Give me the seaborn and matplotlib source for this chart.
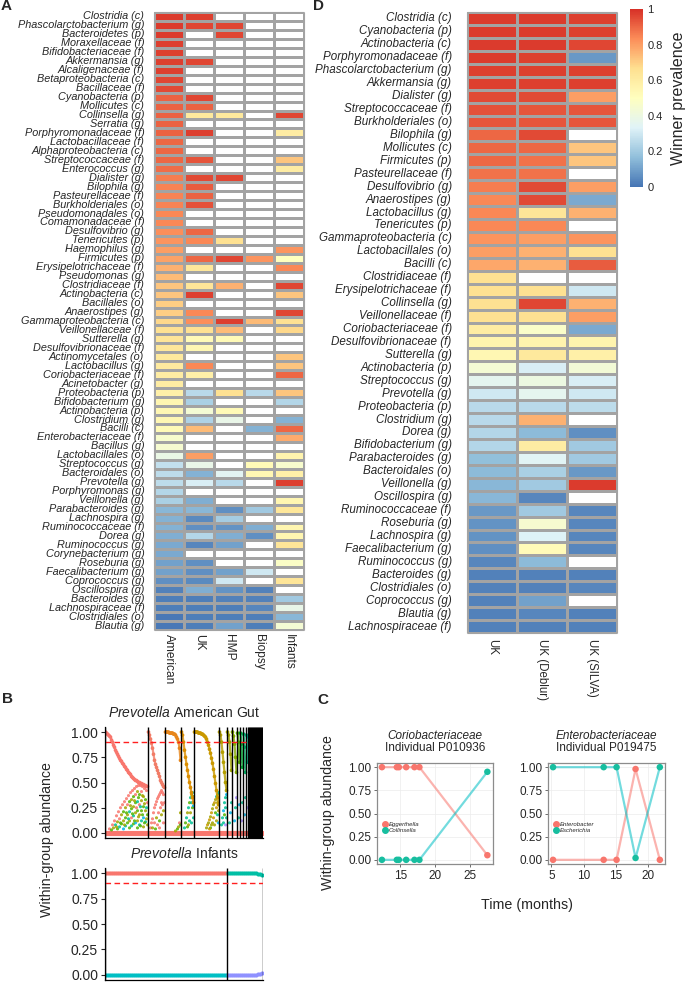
import numpy as np
import pandas as pd
import seaborn as sns
import matplotlib.pyplot as plt
from matplotlib.colors import LinearSegmentedColormap
from matplotlib.lines import Line2D

sns.set_theme(style="white")
plt.rcParams["font.family"] = ["Liberation Sans", "DejaVu Sans"]
plt.rcParams["mathtext.fontset"] = "custom"
plt.rcParams["mathtext.it"] = "Liberation Sans:italic"
plt.rcParams["mathtext.rm"] = "Liberation Sans"

nan = np.nan

# ---------------- panel A: winner prevalence per cohort ----------------
a_taxa = [
    "Clostridia (c)", "Phascolarctobacterium (g)", "Bacteroidetes (p)", "Moraxellaceae (f)",
    "Bifidobacteriaceae (f)", "Akkermansia (g)", "Alcaligenaceae (f)", "Betaproteobacteria (c)",
    "Bacillaceae (f)", "Cyanobacteria (p)", "Mollicutes (c)", "Collinsella (g)", "Serratia (g)",
    "Porphyromonadaceae (f)", "Lactobacillaceae (f)", "Alphaproteobacteria (c)",
    "Streptococcaceae (f)", "Enterococcus (g)", "Dialister (g)", "Bilophila (g)",
    "Pasteurellaceae (f)", "Burkholderiales (o)", "Pseudomonadales (o)", "Comamonadaceae (f)",
    "Desulfovibrio (g)", "Tenericutes (p)", "Haemophilus (g)", "Firmicutes (p)",
    "Erysipelotrichaceae (f)", "Pseudomonas (g)", "Clostridiaceae (f)", "Actinobacteria (c)",
    "Bacillales (o)", "Anaerostipes (g)", "Gammaproteobacteria (c)", "Veillonellaceae (f)",
    "Sutterella (g)", "Desulfovibrionaceae (f)", "Actinomycetales (o)", "Lactobacillus (g)",
    "Coriobacteriaceae (f)", "Acinetobacter (g)", "Proteobacteria (p)", "Bifidobacterium (g)",
    "Actinobacteria (p)", "Clostridium (g)", "Bacilli (c)", "Enterobacteriaceae (f)",
    "Bacillus (g)", "Lactobacillales (o)", "Streptococcus (g)", "Bacteroidales (o)",
    "Prevotella (g)", "Porphyromonas (g)", "Veillonella (g)", "Parabacteroides (g)",
    "Lachnospira (g)", "Ruminococcaceae (f)", "Dorea (g)", "Ruminococcus (g)",
    "Corynebacterium (g)", "Roseburia (g)", "Faecalibacterium (g)", "Coprococcus (g)",
    "Oscillospira (g)", "Bacteroides (g)", "Lachnospiraceae (f)", "Clostridiales (o)",
    "Blautia (g)",
]
a_cohorts = ["American", "UK", "HMP", "Biopsy", "Infants"]
a_american = [
    0.98, 0.98, 0.98, 0.97, 0.97, 0.97, 0.97, 0.96, 0.95, 0.91, 0.91, 0.91, 0.91, 0.91,
    0.90, 0.90, 0.90, 0.89, 0.86, 0.85, 0.85, 0.85, 0.84, 0.84, 0.83, 0.82, 0.80, 0.79,
    0.76, 0.74, 0.72, 0.72, 0.70, 0.70, 0.68, 0.66, 0.64, 0.63, 0.62, 0.61, 0.60, 0.60,
    0.58, 0.55, 0.54, 0.54, 0.53, 0.46, 0.45, 0.39, 0.27, 0.26, 0.26, 0.24, 0.22, 0.15,
    0.14, 0.14, 0.13, 0.12, 0.12, 0.10, 0.10, 0.06, 0.03, 0.02, 0.02, 0.01, 0.01,
]
a_uk = [
    0.97, 0.96, nan, nan, nan, 0.96, nan, nan, nan, 0.96, 0.91, 0.62, nan, 0.97,
    nan, nan, 0.93, nan, 0.95, 0.92, 0.91, 0.94, nan, nan, 0.90, 0.84, nan, 0.90,
    0.63, nan, 0.64, 0.97, nan, 0.84, 0.83, 0.66, 0.53, 0.54, nan, 0.84, 0.58, nan,
    0.25, 0.22, 0.44, 0.23, 0.74, nan, nan, 0.80, 0.38, 0.14, 0.32, nan, 0.13, 0.15,
    0.05, 0.06, 0.24, 0.04, nan, 0.06, 0.06, 0.05, 0.13, 0.02, 0.02, 0.02, 0.02,
]
a_hmp = [
    nan, 0.96, 0.96, nan, nan, nan, nan, nan, nan, nan, nan, 0.62, nan, nan,
    nan, nan, nan, nan, 0.96, nan, nan, nan, nan, nan, nan, 0.66, nan, 0.96,
    nan, nan, 0.76, nan, nan, nan, 0.97, 0.74, 0.53, nan, nan, nan, nan, nan,
    0.66, nan, 0.53, 0.38, nan, nan, nan, nan, nan, 0.35, 0.25, nan, nan, 0.06,
    0.21, 0.07, 0.13, 0.10, nan, nan, 0.10, 0.30, 0.07, 0.03, 0.02, 0.02, 0.10,
]
a_biopsy = [
    nan, nan, nan, nan, nan, nan, nan, nan, nan, nan, nan, nan, nan, nan,
    nan, nan, nan, nan, nan, nan, nan, nan, nan, nan, nan, nan, nan, 0.82,
    nan, nan, nan, nan, nan, nan, 0.74, nan, nan, nan, nan, nan, nan, nan,
    0.25, nan, nan, nan, 0.14, nan, nan, nan, 0.53, 0.54, nan, nan, nan, 0.20,
    nan, 0.13, 0.06, nan, nan, nan, 0.30, nan, 0.03, 0.03, 0.04, 0.02, 0.02,
]
a_infants = [
    nan, nan, nan, nan, nan, nan, nan, nan, nan, nan, nan, 0.96, nan, 0.60,
    nan, nan, 0.72, 0.60, nan, nan, nan, nan, nan, nan, nan, nan, 0.82, 0.50,
    0.84, nan, 0.96, 0.72, nan, 0.96, 0.66, 0.68, nan, nan, 0.72, 0.72, 0.90, nan,
    0.72, 0.24, nan, 0.14, 0.90, 0.77, nan, 0.56, 0.46, 0.58, 0.97, nan, 0.55, 0.63,
    nan, 0.55, 0.55, 0.64, nan, 0.48, nan, 0.64, nan, 0.20, 0.38, 0.15, 0.44,
]

# ---------------- panel D: winner prevalence, UK pipelines ----------------
d_taxa = [
    "Clostridia (c)", "Cyanobacteria (p)", "Actinobacteria (c)", "Porphyromonadaceae (f)",
    "Phascolarctobacterium (g)", "Akkermansia (g)", "Dialister (g)", "Streptococcaceae (f)",
    "Burkholderiales (o)", "Bilophila (g)", "Mollicutes (c)", "Firmicutes (p)",
    "Pasteurellaceae (f)", "Desulfovibrio (g)", "Anaerostipes (g)", "Lactobacillus (g)",
    "Tenericutes (p)", "Gammaproteobacteria (c)", "Lactobacillales (o)", "Bacilli (c)",
    "Clostridiaceae (f)", "Erysipelotrichaceae (f)", "Collinsella (g)", "Veillonellaceae (f)",
    "Coriobacteriaceae (f)", "Desulfovibrionaceae (f)", "Sutterella (g)", "Actinobacteria (p)",
    "Streptococcus (g)", "Prevotella (g)", "Proteobacteria (p)", "Clostridium (g)",
    "Dorea (g)", "Bifidobacterium (g)", "Parabacteroides (g)", "Bacteroidales (o)",
    "Veillonella (g)", "Oscillospira (g)", "Ruminococcaceae (f)", "Roseburia (g)",
    "Lachnospira (g)", "Faecalibacterium (g)", "Ruminococcus (g)", "Bacteroides (g)",
    "Clostridiales (o)", "Coprococcus (g)", "Blautia (g)", "Lachnospiraceae (f)",
]
d_pipelines = ["UK", "UK (Deblur)", "UK (SILVA)"]
d_uk = [
    0.98, 0.98, 0.98, 0.98, 0.97, 0.97, 0.95, 0.94, 0.93, 0.90, 0.90, 0.90,
    0.88, 0.86, 0.84, 0.84, 0.84, 0.82, 0.80, 0.78, 0.66, 0.66, 0.66, 0.66,
    0.60, 0.56, 0.54, 0.44, 0.36, 0.30, 0.25, 0.25, 0.24, 0.24, 0.17, 0.16,
    0.15, 0.15, 0.08, 0.07, 0.07, 0.06, 0.04, 0.03, 0.03, 0.03, 0.03, 0.03,
]
d_deblur = [
    0.98, 0.98, 0.98, 0.97, 0.97, 0.97, 0.95, 0.93, 0.93, 0.95, 0.90, 0.88,
    0.88, 0.95, 0.95, 0.64, 0.84, 0.80, 0.76, 0.76, nan, 0.66, 0.96, 0.66,
    0.47, 0.56, 0.62, 0.32, 0.40, 0.36, 0.25, 0.76, 0.16, 0.60, 0.34, 0.22,
    0.20, 0.04, 0.20, 0.45, 0.33, 0.52, 0.16, 0.03, 0.03, 0.10, 0.04, 0.03,
]
d_silva = [
    0.97, 0.97, 0.96, 0.08, 0.97, 0.97, 0.80, 0.93, 0.93, nan, 0.72, 0.72,
    nan, 0.80, 0.12, 0.76, nan, 0.82, 0.66, 0.92, nan, 0.30, 0.76, 0.80,
    0.12, 0.56, 0.58, 0.43, 0.32, 0.30, 0.26, nan, 0.06, 0.20, 0.20, 0.08,
    0.98, nan, 0.04, 0.04, 0.04, 0.04, nan, 0.03, 0.04, nan, 0.03, 0.03,
]

# ---------------- panel B: Prevotella within-group abundance ----------------
# dominant ASV abundance per sample, one list per winner group (left to right)
b_g1 = [1.0, 0.99, 0.98, 0.97, 0.96, 0.95, 0.92, 0.9, 0.87, 0.85, 0.82, 0.8, 0.78, 0.76,
        0.74, 0.72, 0.71, 0.69, 0.68, 0.66, 0.65, 0.63, 0.62, 0.6, 0.59, 0.58, 0.56, 0.55,
        0.54, 0.53, 0.52, 0.52, 0.51, 0.5, 0.5, 0.49, 0.49, 0.48, 0.48, 0.47, 0.47, 0.46, 0.46]
b_g2 = [1.0, 0.97, 0.93, 0.89, 0.84, 0.78, 0.72, 0.68, 0.65, 0.62, 0.59, 0.56, 0.52, 0.5,
        0.48, 0.46, 0.45]
b_g3 = [1.0, 1.0, 1.0, 1.0, 0.99, 0.99, 0.99, 0.99, 0.98, 0.98, 0.97, 0.95, 0.93, 0.9,
        0.84, 0.72]
b_g4 = [1.0, 0.97, 0.9, 0.82, 0.75, 0.68, 0.62, 0.56, 0.5, 0.45, 0.4, 0.35, 0.3]
b_g5 = [1.0, 1.0, 1.0, 1.0, 0.99, 0.99, 0.99, 0.98, 0.98, 0.97, 0.96, 0.95, 0.93, 0.9,
        0.87, 0.83, 0.79, 0.74, 0.69, 0.63, 0.56, 0.49, 0.42, 0.35, 0.28]
b_g6 = [1.0, 0.97, 0.9, 0.8, 0.7, 0.6, 0.5, 0.42]
b_g7 = [1.0, 0.97, 0.9, 0.78, 0.62]
b_g8 = [1.0, 0.96, 0.88, 0.75, 0.6]
b_g9 = [0.99, 0.9, 0.7]
b_g10 = [0.99, 0.88, 0.65]
b_g11 = [0.98, 0.85, 0.6]
b_g12 = [0.97, 0.7]
b_tail = [0.95, 0.9, 0.97, 0.85, 0.92, 0.8, 0.96, 0.88, 0.75, 0.93, 0.82, 0.9, 0.7, 0.86, 0.78]

# other ASVs: (sample index, abundance, ASV)
b_cloud = [
    (4, 0.04, "s"), (7, 0.08, "s"), (9, 0.12, "s"), (11, 0.17, "s"), (13, 0.21, "s"),
    (15, 0.25, "s"), (17, 0.28, "s"), (19, 0.31, "s"), (21, 0.34, "s"), (23, 0.37, "s"),
    (25, 0.4, "s"), (27, 0.42, "s"), (29, 0.44, "s"), (31, 0.46, "s"), (33, 0.47, "s"),
    (35, 0.47, "s"), (37, 0.46, "s"), (39, 0.44, "s"), (41, 0.42, "s"),
    (6, 0.03, "g"), (8, 0.05, "o"), (10, 0.08, "t"), (12, 0.11, "o"), (12, 0.04, "g"),
    (14, 0.14, "s"), (14, 0.06, "t"), (16, 0.18, "o"), (16, 0.09, "g"), (18, 0.21, "g"),
    (18, 0.12, "o"), (18, 0.04, "b"), (20, 0.25, "o"), (20, 0.15, "g"), (20, 0.07, "t"),
    (22, 0.28, "s"), (22, 0.18, "o"), (22, 0.1, "g"), (24, 0.31, "g"), (24, 0.21, "t"),
    (24, 0.12, "o"), (24, 0.05, "g"), (26, 0.33, "o"), (26, 0.24, "g"), (26, 0.15, "s"),
    (26, 0.07, "t"), (28, 0.36, "g"), (28, 0.26, "o"), (28, 0.17, "t"), (28, 0.09, "g"),
    (30, 0.38, "s"), (30, 0.3, "g"), (30, 0.2, "o"), (30, 0.1, "b"), (32, 0.41, "o"),
    (32, 0.31, "t"), (32, 0.22, "g"), (32, 0.12, "o"), (32, 0.05, "g"), (34, 0.38, "g"),
    (34, 0.28, "s"), (34, 0.18, "o"), (34, 0.08, "t"), (36, 0.41, "s"), (36, 0.32, "o"),
    (36, 0.22, "g"), (36, 0.12, "t"), (38, 0.36, "o"), (38, 0.26, "g"), (38, 0.15, "b"),
    (38, 0.06, "o"), (40, 0.33, "g"), (40, 0.22, "o"), (40, 0.11, "t"), (42, 0.3, "s"),
    (42, 0.18, "g"), (42, 0.08, "o"),
    (11, 0.06, "o"), (15, 0.1, "g"), (19, 0.08, "o"), (21, 0.2, "g"), (23, 0.14, "t"),
    (25, 0.27, "o"), (27, 0.19, "g"), (29, 0.32, "o"), (29, 0.12, "g"), (31, 0.25, "s"),
    (33, 0.35, "g"), (33, 0.16, "o"), (35, 0.26, "t"), (35, 0.07, "g"), (37, 0.37, "o"),
    (37, 0.18, "g"), (39, 0.29, "o"), (39, 0.1, "g"), (41, 0.25, "t"), (41, 0.14, "o"),
    (45, 0.05, "s"), (46, 0.1, "s"), (47, 0.14, "s"), (48, 0.2, "s"), (49, 0.25, "s"),
    (50, 0.28, "s"), (51, 0.31, "s"), (52, 0.34, "s"), (53, 0.36, "s"), (54, 0.38, "s"),
    (55, 0.4, "s"), (56, 0.42, "s"), (57, 0.4, "s"), (58, 0.38, "s"), (47, 0.05, "o"),
    (49, 0.1, "s"), (51, 0.15, "o"), (52, 0.08, "s"), (53, 0.2, "s"), (54, 0.12, "g"),
    (55, 0.25, "s"), (56, 0.18, "o"), (57, 0.28, "s"), (58, 0.1, "s"), (58, 0.22, "o"),
    (50, 0.04, "g"), (54, 0.05, "s"), (56, 0.3, "s"), (59, 0.3, "s"),
    (70, 0.02, "o"), (72, 0.04, "g"), (73, 0.06, "o"), (74, 0.1, "s"), (75, 0.2, "o"),
    (75, 0.08, "g"),
    (79, 0.05, "t"), (80, 0.1, "g"), (81, 0.15, "t"), (82, 0.2, "o"), (83, 0.25, "t"),
    (84, 0.3, "g"), (85, 0.35, "t"), (86, 0.38, "o"), (87, 0.4, "t"), (88, 0.36, "g"),
    (82, 0.06, "g"), (84, 0.12, "t"), (85, 0.2, "o"), (86, 0.1, "t"), (87, 0.25, "g"),
    (88, 0.15, "t"), (86, 0.3, "t"), (83, 0.08, "o"), (88, 0.27, "b"),
    (101, 0.05, "o"), (102, 0.08, "y"), (103, 0.1, "o"), (104, 0.13, "y"), (105, 0.16, "o"),
    (106, 0.2, "y"), (107, 0.24, "o"), (108, 0.28, "o"), (109, 0.3, "y"), (110, 0.33, "o"),
    (111, 0.36, "t"), (112, 0.38, "o"), (113, 0.4, "t"), (105, 0.05, "g"), (107, 0.1, "o"),
    (108, 0.15, "y"), (109, 0.08, "o"), (110, 0.2, "g"), (111, 0.12, "o"), (111, 0.25, "y"),
    (112, 0.18, "t"), (112, 0.3, "o"), (113, 0.1, "b"), (113, 0.22, "o"), (106, 0.08, "o"),
    (104, 0.04, "y"),
    (116, 0.08, "t"), (117, 0.15, "t"), (118, 0.22, "b"), (119, 0.3, "t"), (120, 0.35, "t"),
    (121, 0.38, "b"), (118, 0.1, "t"), (119, 0.18, "g"), (120, 0.25, "t"), (121, 0.15, "t"),
    (120, 0.08, "p"),
    (124, 0.1, "t"), (125, 0.2, "b"), (126, 0.3, "t"), (129, 0.12, "b"), (130, 0.25, "t"),
    (131, 0.35, "p"), (133, 0.15, "t"), (134, 0.28, "b"), (136, 0.12, "p"), (137, 0.3, "t"),
    (139, 0.18, "b"), (140, 0.35, "t"), (142, 0.25, "p"),
]

# infants: two winner groups
inf_g1_dom = [1.0] * 61
inf_g1_other = [0.0] * 61
inf_g2_dom = [1.0, 1.0, 1.0, 1.0, 1.0, 1.0, 1.0, 1.0, 1.0, 1.0, 1.0, 1.0, 1.0, 1.0, 1.0,
              0.995, 0.99, 0.985]
inf_g2_other = [0.0, 0.0, 0.0, 0.0, 0.0, 0.0, 0.0, 0.0, 0.0, 0.0, 0.0, 0.0, 0.0, 0.0, 0.0,
                0.005, 0.01, 0.015]
winner_cutoff = 0.9

# ---------------- panel C: time series in two infants ----------------
c1_time = [12.38, 14.52, 14.81, 15.86, 17.05, 17.76, 27.52]
c1_eggerthella = [1.0, 1.0, 1.0, 1.0, 1.0, 1.0, 0.05]
c1_collinsella = [0.0, 0.0, 0.0, 0.0, 0.0, 0.0, 0.95]
c2_time = [5.26, 13.1, 15.1, 18.04, 21.8]
c2_enterobacter = [0.0, 0.0, 0.0, 0.98, 0.0]
c2_escherichia = [1.0, 1.0, 1.0, 0.02, 1.0]

# ---------------- styling ----------------
W, H = 685, 982
CMAP = LinearSegmentedColormap.from_list(
    "winner", ["#4575b4", "#91bfdb", "#e0f3f8", "#ffffbf", "#fee090", "#fc8d59", "#d73027"])
GRID = "#a3a3a3"
DOM_COLORS = ["#F8766D", "#F17C67", "#E7861B", "#DC8E00", "#C99800", "#B49F00", "#A3A500",
              "#85AD00", "#5BB300", "#00BA38", "#00BE6C", "#00C094"]
TAIL_COLORS = ["#00BFC4", "#00B6EB", "#06A4FF", "#A58AFF", "#DF70F8", "#FB61D7", "#FF66A8"]
CLOUD_COLORS = {"s": "#F8766D", "o": "#A3A500", "g": "#53B400", "t": "#00C094",
                "b": "#00B6EB", "p": "#A58AFF", "y": "#C99800"}
PINK, TEAL, TEAL_LINE = "#F8766D", "#17BE9F", "#00BFC4"


def fig_box(x0, y0, x1, y1):
    return [x0 / W, 1 - y1 / H, (x1 - x0) / W, (y1 - y0) / H]


def draw_heatmap(ax, df, ysize, ypad, xsize, xpad, cbar_ax=None):
    sns.heatmap(df, ax=ax, cmap=CMAP, vmin=0, vmax=1, cbar=cbar_ax is not None,
                cbar_ax=cbar_ax, linewidths=0.8, linecolor=GRID,
                cbar_kws={"ticks": [0, 0.2, 0.4, 0.6, 0.8, 1]} if cbar_ax is not None else None)
    nr, nc = df.shape
    # outline the empty (missing) cells too
    ax.hlines(np.arange(nr + 1), 0, nc, colors=GRID, linewidth=0.8, clip_on=False)
    ax.vlines(np.arange(nc + 1), 0, nr, colors=GRID, linewidth=0.8, clip_on=False)
    ax.set_xlim(0, nc)
    ax.set_ylim(nr, 0)
    ax.set_yticks(np.arange(nr) + 0.5)
    ax.set_yticklabels(df.index, rotation=0, fontstyle="italic", fontsize=ysize)
    ax.set_xticks(np.arange(nc) + 0.5)
    ax.set_xticklabels(df.columns, rotation=-90, fontsize=xsize, va="top", ha="center")
    ax.tick_params(axis="both", length=0)
    ax.tick_params(axis="y", pad=ypad)
    ax.tick_params(axis="x", pad=xpad)
    ax.set_xlabel("")
    ax.set_ylabel("")


def main():
    fig = plt.figure(figsize=(W / 100, H / 100), dpi=100)

    # A
    a_df = pd.DataFrame(dict(zip(a_cohorts, [a_american, a_uk, a_hmp, a_biopsy, a_infants])),
                        index=a_taxa)
    ax_a = fig.add_axes(fig_box(154, 12, 304, 630))
    draw_heatmap(ax_a, a_df, ysize=7.8, ypad=7, xsize=8.6, xpad=3)

    # D
    d_df = pd.DataFrame(dict(zip(d_pipelines, [d_uk, d_deblur, d_silva])), index=d_taxa)
    ax_d = fig.add_axes(fig_box(467, 12, 617, 633))
    ax_cb = fig.add_axes(fig_box(630, 9, 643, 187))
    draw_heatmap(ax_d, d_df, ysize=8.4, ypad=11, xsize=8.3, xpad=4, cbar_ax=ax_cb)
    cb = ax_d.collections[0].colorbar
    cb.outline.set_visible(False)
    cb.ax.set_yticklabels(["0", "0.2", "0.4", "0.6", "0.8", "1"])
    cb.ax.tick_params(length=0, labelsize=8, pad=3)
    cb.set_label("Winner prevalence", fontsize=11.5, labelpad=6)

    # B top: American Gut
    groups = [b_g1, b_g2, b_g3, b_g4, b_g5, b_g6, b_g7, b_g8, b_g9, b_g10, b_g11, b_g12] + \
        [[v] for v in b_tail]
    colors = DOM_COLORS + [TAIL_COLORS[i % len(TAIL_COLORS)] for i in range(len(b_tail))]
    starts = np.cumsum([0] + [len(g) for g in groups])
    n_samples = starts[-1]
    dom = pd.DataFrame({
        "x": np.concatenate([np.arange(s, s + len(g)) for s, g in zip(starts, groups)]) + 0.5,
        "y": np.concatenate(groups),
        "group": np.repeat(np.arange(len(groups)), [len(g) for g in groups]),
    })
    cloud = pd.DataFrame(b_cloud, columns=["x", "y", "asv"])
    cloud["x"] = cloud["x"] + 0.5

    ax_b1 = fig.add_axes(fig_box(105, 727, 263, 838))
    samples = np.arange(n_samples) + 0.5
    ax_b1.scatter(samples, np.zeros(n_samples), s=14, color=PINK, alpha=0.8, lw=0)
    sns.scatterplot(data=cloud, x="x", y="y", hue="asv", palette=CLOUD_COLORS, s=5,
                    linewidth=0, alpha=0.85, legend=False, ax=ax_b1)
    for gi, (s, g) in enumerate(zip(starts, groups)):
        ax_b1.plot(np.arange(s, s + len(g)) + 0.5, g, color=colors[gi], lw=1.6, alpha=0.8)
    sns.scatterplot(data=dom, x="x", y="y", hue="group", palette=colors, s=7,
                    linewidth=0, legend=False, ax=ax_b1)
    ax_b1.vlines(starts, -0.05, 1.05, colors="black", linewidth=1.0)
    ax_b1.hlines(winner_cutoff, 0, starts[12] + 0.5, colors="#ff2020", linestyles=(0, (4, 2.5)),
                 linewidth=1.0)

    # B bottom: Infants
    ax_b2 = fig.add_axes(fig_box(105, 868, 263, 980))
    n1, n2 = len(inf_g1_dom), len(inf_g2_dom)
    x1 = np.arange(n1) + 0.5
    x2 = np.arange(n1, n1 + n2) + 0.5
    ax_b2.scatter(x1, inf_g1_dom, s=9, color=PINK, lw=0)
    ax_b2.scatter(x1, inf_g1_other, s=9, color=TEAL_LINE, lw=0)
    ax_b2.scatter(x2, inf_g2_dom, s=9, color="#00BFA5", lw=0)
    ax_b2.scatter(x2, inf_g2_other, s=9, color="#8F91FF", lw=0)
    ax_b2.vlines([0, n1, n1 + n2], -0.05, 1.05, colors="black", linewidth=1.0)
    ax_b2.hlines(winner_cutoff, 0, n1 + n2, colors="#ff2020", linestyles=(0, (4, 2.5)),
                 linewidth=1.0)

    for ax, xmax, title in [(ax_b1, n_samples, "American Gut"), (ax_b2, n1 + n2, "Infants")]:
        ax.set_xlim(0, xmax)
        ax.set_ylim(-0.05, 1.05)
        ax.set_xticks([])
        ax.set_yticks([0, 0.25, 0.5, 0.75, 1.0])
        ax.set_yticklabels(["0.00", "0.25", "0.50", "0.75", "1.00"])
        ax.tick_params(axis="y", length=3, width=0.8, labelsize=10, pad=2, left=True)
        ax.set_xlabel("")
        ax.set_ylabel("")
        for side in ["top", "right"]:
            ax.spines[side].set_visible(False)
        for side in ["left", "bottom"]:
            ax.spines[side].set_color("black")
            ax.spines[side].set_linewidth(0.9)
        ax.set_title(r"$\it{Prevotella}$ " + title, fontsize=10, pad=7)
    fig.text(47 / W, 1 - 840 / H, "Within-group abundance", rotation=90, fontsize=10.2,
             ha="center", va="center")

    # C
    ax_c1 = fig.add_axes(fig_box(377, 763, 493, 864))
    ax_c2 = fig.add_axes(fig_box(548, 763, 665, 864))
    c_panels = [
        (ax_c1, c1_time, c1_eggerthella, c1_collinsella, ["Eggerthella", "Collinsella"],
         "Coriobacteriaceae", "Individual P010936", (11.67, 28.33), [15, 20, 25]),
        (ax_c2, c2_time, c2_enterobacter, c2_escherichia, ["Enterobacter", "Escherichia"],
         "Enterobacteriaceae", "Individual P019475", (4.48, 22.6), [5, 10, 15, 20]),
    ]
    for ax, t, ya, yb, names, family, who, xlim, xticks in c_panels:
        long = pd.DataFrame({"time": list(t) * 2, "abundance": list(ya) + list(yb),
                             "genus": [names[0]] * len(t) + [names[1]] * len(t)})
        sns.lineplot(data=long, x="time", y="abundance", hue="genus",
                     palette=[PINK, TEAL_LINE], alpha=0.55, linewidth=1.6, legend=False, ax=ax)
        sns.scatterplot(data=long, x="time", y="abundance", hue="genus",
                        palette=[PINK, TEAL], s=22, linewidth=0, legend=False, ax=ax, zorder=3)
        ax.set_xlim(*xlim)
        ax.set_ylim(-0.045, 1.045)
        ax.set_xticks(xticks)
        ax.set_yticks([0, 0.25, 0.5, 0.75, 1.0])
        ax.set_yticklabels(["0.00", "0.25", "0.50", "0.75", "1.00"])
        ax.grid(True, color="#ececec", linewidth=0.5)
        ax.set_axisbelow(True)
        for sp in ax.spines.values():
            sp.set_color("#8c8c8c")
            sp.set_linewidth(0.9)
        ax.tick_params(axis="both", length=2.5, width=0.6, color="#555555", labelsize=8.5,
                       pad=1.5, bottom=True, left=True)
        ax.set_xlabel("")
        ax.set_ylabel("")
        handles = [Line2D([], [], marker="o", ls="", color=c, markersize=4)
                   for c in [PINK, TEAL]]
        leg = ax.legend(handles, names, loc="center left", bbox_to_anchor=(0.0, 0.36),
                        frameon=False, fontsize=4.3, handletextpad=0.1, labelspacing=0.15,
                        borderpad=0.2, handlelength=1.2)
        for txt in leg.get_texts():
            txt.set_fontstyle("italic")
        ax.text(0.5, 1 + 27 / 101, family, transform=ax.transAxes, ha="center", va="center",
                fontsize=8.5, fontstyle="italic")
        ax.text(0.5, 1 + 15 / 101, who, transform=ax.transAxes, ha="center", va="center",
                fontsize=8.5)
    fig.text(328 / W, 1 - 813 / H, "Within-group abundance", rotation=90, fontsize=10.2,
             ha="center", va="center")
    fig.text(527 / W, 1 - 905 / H, "Time (months)", fontsize=10.3, ha="center", va="center")

    # panel letters
    for letter, x, y in [("A", 1, 6), ("D", 313, 6), ("B", 2, 699), ("C", 317, 700)]:
        fig.text(x / W, 1 - y / H, letter, fontsize=11, fontweight="bold", ha="left",
                 va="center")

    fig.savefig("out.png", dpi=100)
    plt.close(fig)


if __name__ == "__main__":
    main()
